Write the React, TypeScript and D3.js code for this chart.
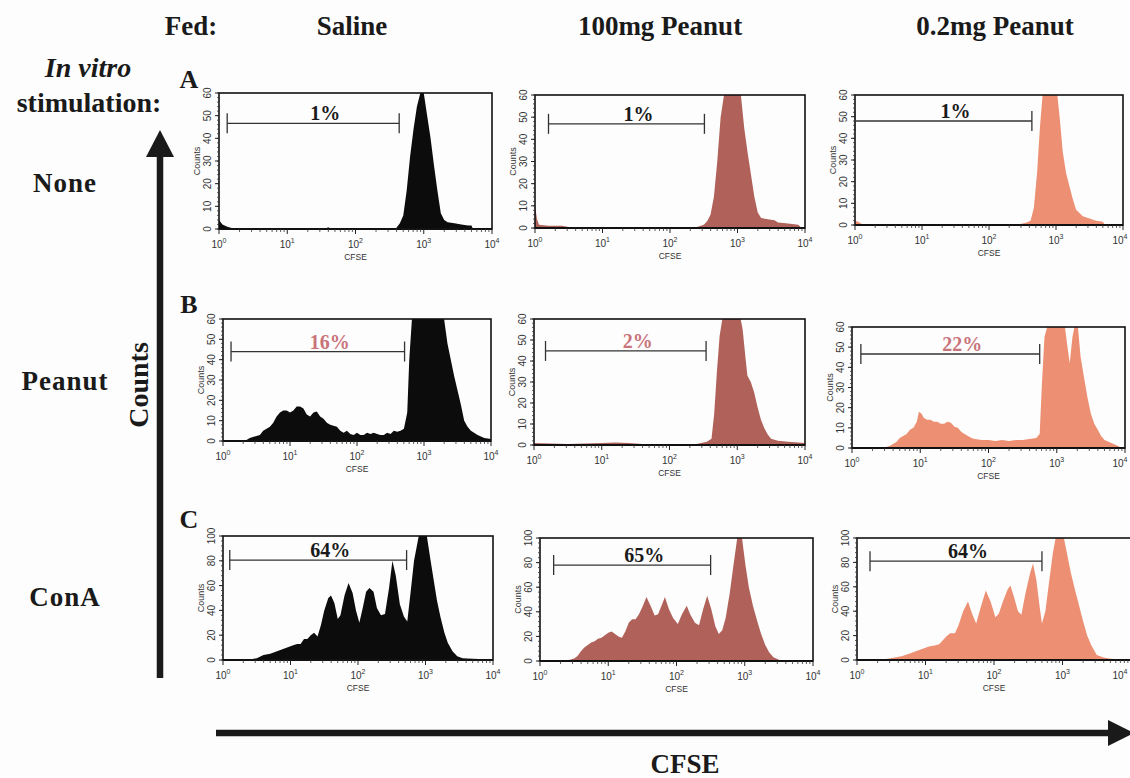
import React from 'react';
import * as d3 from 'd3';

// ---------- DATA ----------
const fedGroups = ['Saline', '100mg Peanut', '0.2mg Peanut'];
const stimulations = ['None', 'Peanut', 'ConA'];
const rowLetters = ['A', 'B', 'C'];
const countMax = [60, 60, 100];
const countTicks60 = [0, 10, 20, 30, 40, 50, 60];
const countTicks100 = [0, 20, 40, 60, 80, 100];
const decadeTicks = [0, 1, 2, 3, 4];
const gatePercents = [
  ['1%', '1%', '1%'],
  ['16%', '2%', '22%'],
  ['64%', '65%', '64%'],
];
// gate: [start log10 CFSE, end log10 CFSE, count level]
const gatesNone = [[0.12, 2.64, 46.6], [0.2, 2.51, 47], [0.0, 2.64, 48]];
const gatesPeanut = [[0.12, 2.71, 44], [0.17, 2.54, 44.8], [0.13, 2.75, 46.6]];
const gatesConA = [[0.1, 2.72, 80.6], [0.2, 2.5, 78], [0.19, 2.7, 81]];

// histograms: [log10 CFSE, counts]
const histNoneSaline = [[0, 4], [0.05, 2], [0.12, 1], [0.2, 0.3], [0.3, 0], [1.55, 0], [1.6, 0.8], [1.65, 0], [2.58, 0], [2.6, 0.5], [2.65, 2.5], [2.7, 6], [2.75, 17], [2.8, 32], [2.85, 44], [2.9, 54], [2.95, 60], [3.0, 60], [3.05, 50], [3.1, 40], [3.15, 28], [3.2, 17], [3.25, 7], [3.3, 4], [3.35, 3], [3.45, 2.5], [3.55, 2], [3.65, 1.5], [3.7, 1.5], [3.72, 0], [4, 0]];
const histNone100 = [[0, 10], [0.03, 4], [0.06, 1.5], [0.2, 1], [0.4, 1], [0.5, 0.5], [1.0, 0.3], [2.0, 0.3], [2.4, 0.5], [2.5, 1.5], [2.55, 3], [2.6, 6], [2.65, 14], [2.7, 30], [2.75, 50], [2.8, 64], [3.0, 64], [3.05, 62], [3.1, 45], [3.15, 34], [3.2, 24], [3.25, 14], [3.3, 7], [3.35, 4.5], [3.45, 4], [3.55, 3.5], [3.6, 2.5], [3.75, 2], [3.9, 1.5], [3.95, 0], [4, 0]];
const histNone02 = [[0, 2], [0.05, 1.5], [0.1, 0.5], [0.3, 0.2], [2.45, 0.3], [2.55, 1], [2.62, 2], [2.67, 8], [2.72, 25], [2.76, 45], [2.8, 62], [3.02, 62], [3.06, 48], [3.1, 34], [3.15, 24], [3.2, 18], [3.25, 12], [3.3, 7], [3.4, 4], [3.5, 3], [3.6, 2], [3.7, 1.5], [3.73, 0], [4, 0]];

const histPeanutSaline = [[0, 0.5], [0.35, 0.5], [0.4, 1.5], [0.5, 2.5], [0.55, 3], [0.6, 5], [0.65, 6], [0.7, 7], [0.75, 9], [0.8, 12], [0.85, 14], [0.9, 15], [0.95, 15], [1.0, 14], [1.05, 15], [1.1, 17], [1.15, 17], [1.2, 16], [1.25, 13], [1.3, 12], [1.35, 14], [1.4, 14.5], [1.45, 12], [1.5, 11], [1.55, 9], [1.6, 8], [1.65, 7.5], [1.7, 7], [1.75, 5], [1.8, 4], [1.85, 5], [1.9, 3.5], [1.95, 3], [2.0, 4], [2.05, 3], [2.1, 3], [2.15, 4], [2.2, 3.5], [2.25, 4], [2.3, 3.5], [2.35, 3], [2.4, 3], [2.45, 4], [2.5, 3.5], [2.55, 5], [2.6, 4.5], [2.65, 5], [2.7, 6], [2.75, 14], [2.78, 40], [2.82, 64], [3.3, 64], [3.35, 48], [3.4, 40], [3.45, 32], [3.5, 25], [3.55, 18], [3.6, 10], [3.65, 7], [3.7, 5], [3.8, 3], [3.9, 1.5], [4.0, 1]];
const histPeanut100 = [[0, 1], [0.5, 0.5], [1.0, 1], [1.2, 1.2], [1.4, 1], [1.6, 0.5], [2.0, 0.5], [2.4, 0.5], [2.55, 1.5], [2.62, 3], [2.66, 15], [2.7, 35], [2.74, 52], [2.78, 64], [3.05, 64], [3.08, 55], [3.12, 42], [3.15, 33], [3.2, 30], [3.25, 25], [3.3, 18], [3.35, 12], [3.4, 8], [3.45, 5], [3.5, 3], [3.6, 2], [3.75, 1.5], [4, 1]];
const histPeanut02 = [[0, 0], [0.45, 0], [0.5, 0.5], [0.55, 1], [0.6, 2], [0.65, 3], [0.7, 5], [0.75, 6], [0.8, 7], [0.85, 9], [0.9, 10], [0.95, 13], [0.98, 18], [1.02, 17], [1.05, 15], [1.1, 14], [1.15, 14], [1.2, 13], [1.25, 13], [1.3, 12], [1.35, 12], [1.4, 13], [1.45, 12.5], [1.5, 10.5], [1.55, 10], [1.6, 8], [1.65, 7], [1.7, 6], [1.75, 5], [1.8, 4.5], [1.9, 4], [2.0, 4], [2.1, 3.5], [2.2, 4], [2.3, 3.5], [2.4, 4], [2.5, 4], [2.6, 4.5], [2.7, 5], [2.75, 7], [2.78, 30], [2.82, 55], [2.86, 64], [3.12, 64], [3.15, 52], [3.19, 42], [3.23, 55], [3.26, 64], [3.31, 64], [3.35, 45], [3.4, 35], [3.45, 25], [3.5, 17], [3.55, 12], [3.6, 9], [3.65, 6], [3.7, 4], [3.8, 2.5], [3.9, 1], [3.95, 0], [4, 0]];

const histConASaline = [[0, 0], [0.35, 0], [0.4, 0.5], [0.5, 1.5], [0.6, 4], [0.7, 5], [0.8, 7], [0.9, 9], [1.0, 11], [1.05, 12], [1.1, 13], [1.15, 13], [1.2, 17], [1.25, 17], [1.3, 20], [1.35, 22], [1.4, 19], [1.45, 28], [1.5, 40], [1.56, 50], [1.6, 52], [1.65, 46], [1.7, 33], [1.74, 36], [1.8, 52], [1.86, 62], [1.92, 54], [1.97, 40], [2.02, 30], [2.07, 42], [2.12, 55], [2.17, 58], [2.23, 55], [2.28, 42], [2.34, 36], [2.4, 37], [2.46, 58], [2.51, 80], [2.56, 68], [2.62, 45], [2.68, 35], [2.73, 31], [2.78, 55], [2.83, 80], [2.9, 102], [3.02, 102], [3.07, 82], [3.12, 65], [3.17, 48], [3.22, 35], [3.28, 22], [3.33, 14], [3.4, 7], [3.47, 3], [3.55, 1.5], [3.7, 1], [3.97, 0.5], [4, 0]];
const histConA100 = [[0, 0], [0.35, 0], [0.4, 0.5], [0.5, 2], [0.55, 4], [0.6, 8], [0.65, 11], [0.7, 13], [0.75, 15], [0.8, 16], [0.85, 18], [0.9, 19], [0.95, 21], [1.0, 23], [1.05, 24], [1.1, 22], [1.15, 20], [1.2, 19], [1.25, 24], [1.3, 31], [1.35, 34], [1.4, 34], [1.45, 38], [1.5, 44], [1.56, 52], [1.62, 45], [1.68, 37], [1.73, 38], [1.78, 45], [1.83, 52], [1.89, 42], [1.95, 35], [2.02, 30], [2.08, 38], [2.15, 45], [2.2, 38], [2.27, 31], [2.33, 29], [2.39, 42], [2.45, 53], [2.51, 42], [2.57, 28], [2.62, 22], [2.67, 25], [2.72, 35], [2.78, 55], [2.84, 80], [2.89, 102], [2.96, 102], [3.01, 78], [3.06, 60], [3.12, 45], [3.18, 33], [3.24, 22], [3.3, 13], [3.36, 7], [3.42, 3], [3.5, 1], [3.55, 0], [4, 0]];
const histConA02 = [[0, 0], [0.25, 0], [0.3, 0.5], [0.45, 1], [0.55, 2], [0.65, 3], [0.75, 5], [0.85, 7], [0.95, 9], [1.05, 11], [1.15, 12], [1.2, 13], [1.25, 16], [1.3, 19], [1.36, 22], [1.43, 22], [1.48, 28], [1.55, 40], [1.62, 48], [1.68, 38], [1.74, 30], [1.8, 42], [1.88, 57], [1.95, 48], [2.02, 35], [2.07, 38], [2.13, 48], [2.2, 58], [2.24, 61], [2.29, 52], [2.35, 40], [2.4, 37], [2.46, 55], [2.53, 72], [2.57, 79], [2.62, 65], [2.67, 42], [2.7, 30], [2.75, 40], [2.8, 62], [2.86, 88], [2.9, 102], [3.02, 102], [3.07, 86], [3.12, 72], [3.18, 58], [3.24, 45], [3.3, 32], [3.36, 20], [3.42, 12], [3.5, 4], [3.6, 2], [3.7, 1], [3.9, 0.5], [4, 0]];

const histograms = [
  [histNoneSaline, histNone100, histNone02],
  [histPeanutSaline, histPeanut100, histPeanut02],
  [histConASaline, histConA100, histConA02],
];
const gates = [gatesNone, gatesPeanut, gatesConA];

// ---------- STYLE / LAYOUT ----------
const fills = ['#0c0c0c', '#b0625a', '#ec8f72'];
const gateLabelColors = ['#1a1a1a', '#c9737b', '#1a1a1a'];
// panel boxes [left, top, right, bottom]
const boxes = [
  [[219, 93, 492, 229], [535, 95, 805, 228], [855, 95, 1123, 225]],
  [[223, 319, 491, 441], [534, 319, 805, 445], [852, 327, 1125, 448]],
  [[223, 536, 493, 660], [540, 538, 813, 661], [857, 538, 1131, 660]],
];
const serif = '"Liberation Serif", "Times New Roman", serif';
const sans = '"Liberation Sans", Arial, sans-serif';
const W = 1130;

function Panel({ r, c }: { r: number; c: number }) {
  const [l, t, rt, b] = boxes[r][c];
  const max = countMax[r];
  const x = d3.scaleLog().domain([1, 1e4]).range([l, rt]);
  const y = d3.scaleLinear().domain([0, max]).range([b, t]);
  const data = histograms[r][c];
  const area = d3
    .area<number[]>()
    .x((d) => x(Math.pow(10, d[0])))
    .y0(y(0))
    .y1((d) => y(Math.min(d[1], max)))
    .curve(d3.curveLinear);
  const yTicks = max === 60 ? countTicks60 : countTicks100;
  const minorStep = max === 60 ? 2 : 4;
  const yMinor = d3.range(0, max + 0.001, minorStep);
  const xMinor: number[] = [];
  for (let dcd = 0; dcd < 4; dcd++) for (let k = 2; k <= 9; k++) xMinor.push(k * Math.pow(10, dcd));
  const [g0, g1, gl] = gates[r][c];
  const gx0 = x(Math.pow(10, g0));
  const gx1 = x(Math.pow(10, g1));
  const gy = y(gl);
  const clipId = `clip-${r}-${c}`;
  return (
    <g>
      <defs>
        <clipPath id={clipId}>
          <rect x={l} y={t} width={rt - l} height={b - t + 1} />
        </clipPath>
      </defs>
      <path d={area(data) || ''} fill={fills[c]} clipPath={`url(#${clipId})`} />
      <rect x={l} y={t} width={rt - l} height={b - t} fill="none" stroke="#111" strokeWidth={1.6} />
      <line x1={l} x2={rt} y1={b} y2={b} stroke="#111" strokeWidth={2.2} />
      {yMinor.map((v) => (
        <line key={'ym' + v} x1={l - 2} x2={l} y1={y(v)} y2={y(v)} stroke="#333" strokeWidth={0.8} />
      ))}
      {yTicks.map((v) => (
        <g key={'yt' + v}>
          <line x1={l - 4} x2={l} y1={y(v)} y2={y(v)} stroke="#222" strokeWidth={1} />
          <text
            transform={`translate(${l - 8},${y(v)}) rotate(-90)`}
            textAnchor="middle"
            fontFamily={sans}
            fontSize={10}
            fill="#333"
          >
            {v}
          </text>
        </g>
      ))}
      <text
        transform={`translate(${l - 19},${(t + b) / 2}) rotate(-90)`}
        textAnchor="middle"
        fontFamily={sans}
        fontSize={9}
        fill="#333"
      >
        Counts
      </text>
      {xMinor.map((v) => (
        <line key={'xm' + v} x1={x(v)} x2={x(v)} y1={b} y2={b + 3} stroke="#333" strokeWidth={0.8} />
      ))}
      {decadeTicks.map((p) => {
        const px = x(Math.pow(10, p));
        const lx = Math.min(px, W - 10);
        return (
          <g key={'xt' + p}>
            <line x1={px} x2={px} y1={b} y2={b + 5} stroke="#222" strokeWidth={1} />
            <text x={lx} y={b + 19} textAnchor="middle" fontFamily={sans} fontSize={10} fill="#333">
              10
              <tspan dy={-5} fontSize={7}>
                {p}
              </tspan>
            </text>
          </g>
        );
      })}
      <text x={(l + rt) / 2} y={b + 31} textAnchor="middle" fontFamily={sans} fontSize={8.5} fill="#333">
        CFSE
      </text>
      <line x1={gx0} x2={gx1} y1={gy} y2={gy} stroke="#333" strokeWidth={1.3} />
      <line x1={gx0} x2={gx0} y1={gy - 10} y2={gy + 10} stroke="#333" strokeWidth={1.3} />
      <line x1={gx1} x2={gx1} y1={gy - 10} y2={gy + 10} stroke="#333" strokeWidth={1.3} />
      <text
        x={(gx0 + gx1) / 2 + 12}
        y={gy - 3}
        textAnchor="middle"
        fontFamily={serif}
        fontWeight="bold"
        fontSize={20}
        fill={gateLabelColors[r]}
      >
        {gatePercents[r][c]}
      </text>
    </g>
  );
}

export default function App() {
  const colCenters = [352, 660, 995];
  const rowLabelY = [192, 390, 606];
  const letterY = [88, 313, 528];
  return (
    <div style={{ position: 'absolute', left: 0, top: 0 }}>
      <svg width={W} height={778} style={{ display: 'block', background: '#fff' }}>
        <rect x={0} y={0} width={W} height={778} fill="#fdfdfd" />
        <text x={191} y={35} textAnchor="middle" fontFamily={serif} fontWeight="bold" fontSize={27} fill="#1a1a1a">
          Fed:
        </text>
        {fedGroups.map((g, i) => (
          <text key={g} x={colCenters[i]} y={35} textAnchor="middle" fontFamily={serif} fontWeight="bold" fontSize={27} fill="#1a1a1a">
            {g}
          </text>
        ))}
        <text x={88} y={77} textAnchor="middle" fontFamily={serif} fontWeight="bold" fontStyle="italic" fontSize={28} fill="#1a1a1a">
          In vitro
        </text>
        <text x={89} y={112} textAnchor="middle" fontFamily={serif} fontWeight="bold" fontSize={28} fill="#1a1a1a">
          stimulation:
        </text>
        {stimulations.map((s, i) => (
          <text key={s} x={65} y={rowLabelY[i]} textAnchor="middle" fontFamily={serif} fontWeight="bold" fontSize={27} letterSpacing={1} fill="#1a1a1a">
            {s}
          </text>
        ))}
        {rowLetters.map((s, i) => (
          <text key={s} x={189} y={letterY[i]} textAnchor="middle" fontFamily={serif} fontWeight="bold" fontSize={26} fill="#1a1a1a">
            {s}
          </text>
        ))}
        <line x1={160} x2={160} y1={152} y2={678} stroke="#1a1a1a" strokeWidth={6.5} />
        <polygon points="146,157 174,157 160,130" fill="#1a1a1a" />
        <text transform="translate(148,385) rotate(-90)" textAnchor="middle" fontFamily={serif} fontWeight="bold" fontSize={28} fill="#1a1a1a">
          Counts
        </text>
        <line x1={216} x2={1112} y1={733} y2={733} stroke="#1a1a1a" strokeWidth={6.5} />
        <polygon points="1108,720 1108,746 1134,733" fill="#1a1a1a" />
        <text x={685} y={773} textAnchor="middle" fontFamily={serif} fontWeight="bold" fontSize={27} fill="#1a1a1a">
          CFSE
        </text>
        {[0, 1, 2].map((r) => [0, 1, 2].map((c) => <Panel key={`${r}-${c}`} r={r} c={c} />))}
      </svg>
    </div>
  );
}
